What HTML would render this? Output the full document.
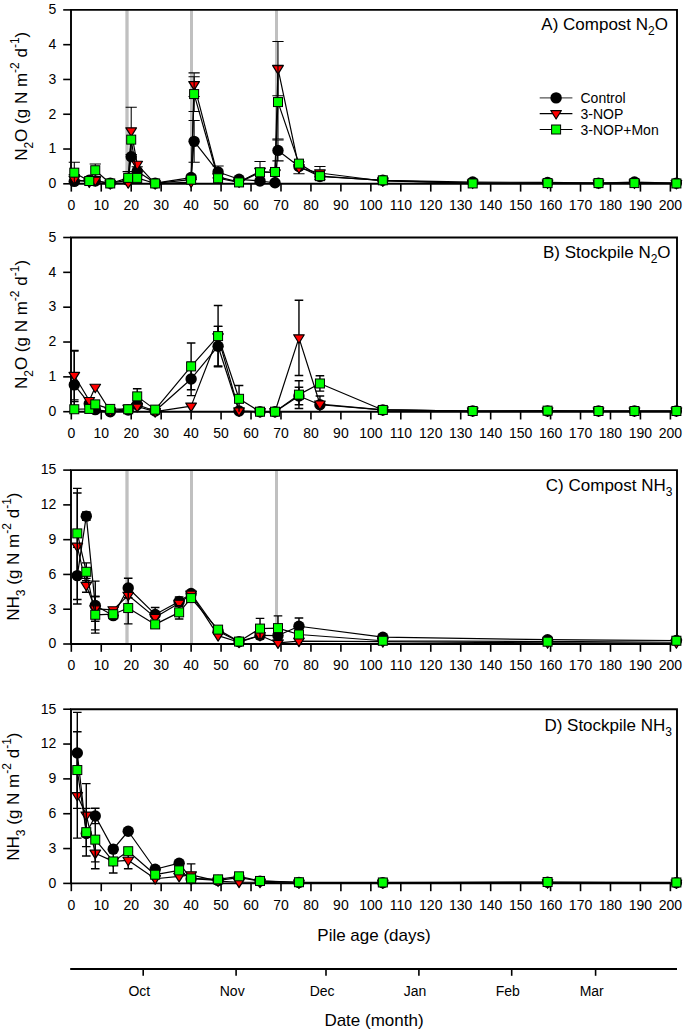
<!DOCTYPE html>
<html><head><meta charset="utf-8"><title>Figure</title>
<style>
html,body{margin:0;padding:0;background:#fff;width:685px;height:1032px;overflow:hidden}
svg{display:block}
text{font-family:"Liberation Sans",sans-serif;fill:#000}
</style></head><body>
<svg width="685" height="1032" viewBox="0 0 685 1032">
<rect width="685" height="1032" fill="#fff"/>
<line x1="127.0" y1="9.9" x2="127.0" y2="183.8" stroke="#c0c0c0" stroke-width="3.3"/>
<line x1="191.5" y1="9.9" x2="191.5" y2="183.8" stroke="#c0c0c0" stroke-width="3.0"/>
<line x1="276.5" y1="9.9" x2="276.5" y2="183.8" stroke="#c0c0c0" stroke-width="3.0"/>
<line x1="63.2" y1="183.80" x2="71.0" y2="183.80" stroke="#000" stroke-width="1.6"/>
<text x="56.3" y="188.10" text-anchor="end" font-size="14">0</text>
<line x1="63.2" y1="149.02" x2="71.0" y2="149.02" stroke="#000" stroke-width="1.6"/>
<text x="56.3" y="153.32" text-anchor="end" font-size="14">1</text>
<line x1="63.2" y1="114.24" x2="71.0" y2="114.24" stroke="#000" stroke-width="1.6"/>
<text x="56.3" y="118.54" text-anchor="end" font-size="14">2</text>
<line x1="63.2" y1="79.46" x2="71.0" y2="79.46" stroke="#000" stroke-width="1.6"/>
<text x="56.3" y="83.76" text-anchor="end" font-size="14">3</text>
<line x1="63.2" y1="44.68" x2="71.0" y2="44.68" stroke="#000" stroke-width="1.6"/>
<text x="56.3" y="48.98" text-anchor="end" font-size="14">4</text>
<line x1="63.2" y1="9.90" x2="71.0" y2="9.90" stroke="#000" stroke-width="1.6"/>
<text x="56.3" y="14.20" text-anchor="end" font-size="14">5</text>
<line x1="71.30" y1="183.8" x2="71.30" y2="191.60" stroke="#000" stroke-width="1.6"/>
<text x="71.30" y="210.10" text-anchor="middle" font-size="14">0</text>
<line x1="101.25" y1="183.8" x2="101.25" y2="191.60" stroke="#000" stroke-width="1.6"/>
<text x="101.25" y="210.10" text-anchor="middle" font-size="14">10</text>
<line x1="131.21" y1="183.8" x2="131.21" y2="191.60" stroke="#000" stroke-width="1.6"/>
<text x="131.21" y="210.10" text-anchor="middle" font-size="14">20</text>
<line x1="161.16" y1="183.8" x2="161.16" y2="191.60" stroke="#000" stroke-width="1.6"/>
<text x="161.16" y="210.10" text-anchor="middle" font-size="14">30</text>
<line x1="191.12" y1="183.8" x2="191.12" y2="191.60" stroke="#000" stroke-width="1.6"/>
<text x="191.12" y="210.10" text-anchor="middle" font-size="14">40</text>
<line x1="221.07" y1="183.8" x2="221.07" y2="191.60" stroke="#000" stroke-width="1.6"/>
<text x="221.07" y="210.10" text-anchor="middle" font-size="14">50</text>
<line x1="251.03" y1="183.8" x2="251.03" y2="191.60" stroke="#000" stroke-width="1.6"/>
<text x="251.03" y="210.10" text-anchor="middle" font-size="14">60</text>
<line x1="280.99" y1="183.8" x2="280.99" y2="191.60" stroke="#000" stroke-width="1.6"/>
<text x="280.99" y="210.10" text-anchor="middle" font-size="14">70</text>
<line x1="310.94" y1="183.8" x2="310.94" y2="191.60" stroke="#000" stroke-width="1.6"/>
<text x="310.94" y="210.10" text-anchor="middle" font-size="14">80</text>
<line x1="340.89" y1="183.8" x2="340.89" y2="191.60" stroke="#000" stroke-width="1.6"/>
<text x="340.89" y="210.10" text-anchor="middle" font-size="14">90</text>
<line x1="370.85" y1="183.8" x2="370.85" y2="191.60" stroke="#000" stroke-width="1.6"/>
<text x="370.85" y="210.10" text-anchor="middle" font-size="14">100</text>
<line x1="400.81" y1="183.8" x2="400.81" y2="191.60" stroke="#000" stroke-width="1.6"/>
<text x="400.81" y="210.10" text-anchor="middle" font-size="14">110</text>
<line x1="430.76" y1="183.8" x2="430.76" y2="191.60" stroke="#000" stroke-width="1.6"/>
<text x="430.76" y="210.10" text-anchor="middle" font-size="14">120</text>
<line x1="460.71" y1="183.8" x2="460.71" y2="191.60" stroke="#000" stroke-width="1.6"/>
<text x="460.71" y="210.10" text-anchor="middle" font-size="14">130</text>
<line x1="490.67" y1="183.8" x2="490.67" y2="191.60" stroke="#000" stroke-width="1.6"/>
<text x="490.67" y="210.10" text-anchor="middle" font-size="14">140</text>
<line x1="520.62" y1="183.8" x2="520.62" y2="191.60" stroke="#000" stroke-width="1.6"/>
<text x="520.62" y="210.10" text-anchor="middle" font-size="14">150</text>
<line x1="550.58" y1="183.8" x2="550.58" y2="191.60" stroke="#000" stroke-width="1.6"/>
<text x="550.58" y="210.10" text-anchor="middle" font-size="14">160</text>
<line x1="580.53" y1="183.8" x2="580.53" y2="191.60" stroke="#000" stroke-width="1.6"/>
<text x="580.53" y="210.10" text-anchor="middle" font-size="14">170</text>
<line x1="610.49" y1="183.8" x2="610.49" y2="191.60" stroke="#000" stroke-width="1.6"/>
<text x="610.49" y="210.10" text-anchor="middle" font-size="14">180</text>
<line x1="640.44" y1="183.8" x2="640.44" y2="191.60" stroke="#000" stroke-width="1.6"/>
<text x="640.44" y="210.10" text-anchor="middle" font-size="14">190</text>
<line x1="670.40" y1="183.8" x2="670.40" y2="191.60" stroke="#000" stroke-width="1.6"/>
<text x="670.40" y="210.10" text-anchor="middle" font-size="14">200</text>
<line x1="63.2" y1="411.70" x2="71.0" y2="411.70" stroke="#000" stroke-width="1.6"/>
<text x="56.3" y="416.00" text-anchor="end" font-size="14">0</text>
<line x1="63.2" y1="376.86" x2="71.0" y2="376.86" stroke="#000" stroke-width="1.6"/>
<text x="56.3" y="381.16" text-anchor="end" font-size="14">1</text>
<line x1="63.2" y1="342.02" x2="71.0" y2="342.02" stroke="#000" stroke-width="1.6"/>
<text x="56.3" y="346.32" text-anchor="end" font-size="14">2</text>
<line x1="63.2" y1="307.18" x2="71.0" y2="307.18" stroke="#000" stroke-width="1.6"/>
<text x="56.3" y="311.48" text-anchor="end" font-size="14">3</text>
<line x1="63.2" y1="272.34" x2="71.0" y2="272.34" stroke="#000" stroke-width="1.6"/>
<text x="56.3" y="276.64" text-anchor="end" font-size="14">4</text>
<line x1="63.2" y1="237.50" x2="71.0" y2="237.50" stroke="#000" stroke-width="1.6"/>
<text x="56.3" y="241.80" text-anchor="end" font-size="14">5</text>
<line x1="71.30" y1="411.7" x2="71.30" y2="419.50" stroke="#000" stroke-width="1.6"/>
<text x="71.30" y="438.00" text-anchor="middle" font-size="14">0</text>
<line x1="101.25" y1="411.7" x2="101.25" y2="419.50" stroke="#000" stroke-width="1.6"/>
<text x="101.25" y="438.00" text-anchor="middle" font-size="14">10</text>
<line x1="131.21" y1="411.7" x2="131.21" y2="419.50" stroke="#000" stroke-width="1.6"/>
<text x="131.21" y="438.00" text-anchor="middle" font-size="14">20</text>
<line x1="161.16" y1="411.7" x2="161.16" y2="419.50" stroke="#000" stroke-width="1.6"/>
<text x="161.16" y="438.00" text-anchor="middle" font-size="14">30</text>
<line x1="191.12" y1="411.7" x2="191.12" y2="419.50" stroke="#000" stroke-width="1.6"/>
<text x="191.12" y="438.00" text-anchor="middle" font-size="14">40</text>
<line x1="221.07" y1="411.7" x2="221.07" y2="419.50" stroke="#000" stroke-width="1.6"/>
<text x="221.07" y="438.00" text-anchor="middle" font-size="14">50</text>
<line x1="251.03" y1="411.7" x2="251.03" y2="419.50" stroke="#000" stroke-width="1.6"/>
<text x="251.03" y="438.00" text-anchor="middle" font-size="14">60</text>
<line x1="280.99" y1="411.7" x2="280.99" y2="419.50" stroke="#000" stroke-width="1.6"/>
<text x="280.99" y="438.00" text-anchor="middle" font-size="14">70</text>
<line x1="310.94" y1="411.7" x2="310.94" y2="419.50" stroke="#000" stroke-width="1.6"/>
<text x="310.94" y="438.00" text-anchor="middle" font-size="14">80</text>
<line x1="340.89" y1="411.7" x2="340.89" y2="419.50" stroke="#000" stroke-width="1.6"/>
<text x="340.89" y="438.00" text-anchor="middle" font-size="14">90</text>
<line x1="370.85" y1="411.7" x2="370.85" y2="419.50" stroke="#000" stroke-width="1.6"/>
<text x="370.85" y="438.00" text-anchor="middle" font-size="14">100</text>
<line x1="400.81" y1="411.7" x2="400.81" y2="419.50" stroke="#000" stroke-width="1.6"/>
<text x="400.81" y="438.00" text-anchor="middle" font-size="14">110</text>
<line x1="430.76" y1="411.7" x2="430.76" y2="419.50" stroke="#000" stroke-width="1.6"/>
<text x="430.76" y="438.00" text-anchor="middle" font-size="14">120</text>
<line x1="460.71" y1="411.7" x2="460.71" y2="419.50" stroke="#000" stroke-width="1.6"/>
<text x="460.71" y="438.00" text-anchor="middle" font-size="14">130</text>
<line x1="490.67" y1="411.7" x2="490.67" y2="419.50" stroke="#000" stroke-width="1.6"/>
<text x="490.67" y="438.00" text-anchor="middle" font-size="14">140</text>
<line x1="520.62" y1="411.7" x2="520.62" y2="419.50" stroke="#000" stroke-width="1.6"/>
<text x="520.62" y="438.00" text-anchor="middle" font-size="14">150</text>
<line x1="550.58" y1="411.7" x2="550.58" y2="419.50" stroke="#000" stroke-width="1.6"/>
<text x="550.58" y="438.00" text-anchor="middle" font-size="14">160</text>
<line x1="580.53" y1="411.7" x2="580.53" y2="419.50" stroke="#000" stroke-width="1.6"/>
<text x="580.53" y="438.00" text-anchor="middle" font-size="14">170</text>
<line x1="610.49" y1="411.7" x2="610.49" y2="419.50" stroke="#000" stroke-width="1.6"/>
<text x="610.49" y="438.00" text-anchor="middle" font-size="14">180</text>
<line x1="640.44" y1="411.7" x2="640.44" y2="419.50" stroke="#000" stroke-width="1.6"/>
<text x="640.44" y="438.00" text-anchor="middle" font-size="14">190</text>
<line x1="670.40" y1="411.7" x2="670.40" y2="419.50" stroke="#000" stroke-width="1.6"/>
<text x="670.40" y="438.00" text-anchor="middle" font-size="14">200</text>
<line x1="127.0" y1="470.1" x2="127.0" y2="644.0" stroke="#c0c0c0" stroke-width="3.3"/>
<line x1="191.5" y1="470.1" x2="191.5" y2="644.0" stroke="#c0c0c0" stroke-width="3.0"/>
<line x1="276.5" y1="470.1" x2="276.5" y2="644.0" stroke="#c0c0c0" stroke-width="3.0"/>
<line x1="63.2" y1="644.00" x2="71.0" y2="644.00" stroke="#000" stroke-width="1.6"/>
<text x="56.3" y="648.30" text-anchor="end" font-size="14">0</text>
<line x1="63.2" y1="609.22" x2="71.0" y2="609.22" stroke="#000" stroke-width="1.6"/>
<text x="56.3" y="613.52" text-anchor="end" font-size="14">3</text>
<line x1="63.2" y1="574.44" x2="71.0" y2="574.44" stroke="#000" stroke-width="1.6"/>
<text x="56.3" y="578.74" text-anchor="end" font-size="14">6</text>
<line x1="63.2" y1="539.66" x2="71.0" y2="539.66" stroke="#000" stroke-width="1.6"/>
<text x="56.3" y="543.96" text-anchor="end" font-size="14">9</text>
<line x1="63.2" y1="504.88" x2="71.0" y2="504.88" stroke="#000" stroke-width="1.6"/>
<text x="56.3" y="509.18" text-anchor="end" font-size="14">12</text>
<line x1="63.2" y1="470.10" x2="71.0" y2="470.10" stroke="#000" stroke-width="1.6"/>
<text x="56.3" y="474.40" text-anchor="end" font-size="14">15</text>
<line x1="71.30" y1="644.0" x2="71.30" y2="651.80" stroke="#000" stroke-width="1.6"/>
<text x="71.30" y="670.30" text-anchor="middle" font-size="14">0</text>
<line x1="101.25" y1="644.0" x2="101.25" y2="651.80" stroke="#000" stroke-width="1.6"/>
<text x="101.25" y="670.30" text-anchor="middle" font-size="14">10</text>
<line x1="131.21" y1="644.0" x2="131.21" y2="651.80" stroke="#000" stroke-width="1.6"/>
<text x="131.21" y="670.30" text-anchor="middle" font-size="14">20</text>
<line x1="161.16" y1="644.0" x2="161.16" y2="651.80" stroke="#000" stroke-width="1.6"/>
<text x="161.16" y="670.30" text-anchor="middle" font-size="14">30</text>
<line x1="191.12" y1="644.0" x2="191.12" y2="651.80" stroke="#000" stroke-width="1.6"/>
<text x="191.12" y="670.30" text-anchor="middle" font-size="14">40</text>
<line x1="221.07" y1="644.0" x2="221.07" y2="651.80" stroke="#000" stroke-width="1.6"/>
<text x="221.07" y="670.30" text-anchor="middle" font-size="14">50</text>
<line x1="251.03" y1="644.0" x2="251.03" y2="651.80" stroke="#000" stroke-width="1.6"/>
<text x="251.03" y="670.30" text-anchor="middle" font-size="14">60</text>
<line x1="280.99" y1="644.0" x2="280.99" y2="651.80" stroke="#000" stroke-width="1.6"/>
<text x="280.99" y="670.30" text-anchor="middle" font-size="14">70</text>
<line x1="310.94" y1="644.0" x2="310.94" y2="651.80" stroke="#000" stroke-width="1.6"/>
<text x="310.94" y="670.30" text-anchor="middle" font-size="14">80</text>
<line x1="340.89" y1="644.0" x2="340.89" y2="651.80" stroke="#000" stroke-width="1.6"/>
<text x="340.89" y="670.30" text-anchor="middle" font-size="14">90</text>
<line x1="370.85" y1="644.0" x2="370.85" y2="651.80" stroke="#000" stroke-width="1.6"/>
<text x="370.85" y="670.30" text-anchor="middle" font-size="14">100</text>
<line x1="400.81" y1="644.0" x2="400.81" y2="651.80" stroke="#000" stroke-width="1.6"/>
<text x="400.81" y="670.30" text-anchor="middle" font-size="14">110</text>
<line x1="430.76" y1="644.0" x2="430.76" y2="651.80" stroke="#000" stroke-width="1.6"/>
<text x="430.76" y="670.30" text-anchor="middle" font-size="14">120</text>
<line x1="460.71" y1="644.0" x2="460.71" y2="651.80" stroke="#000" stroke-width="1.6"/>
<text x="460.71" y="670.30" text-anchor="middle" font-size="14">130</text>
<line x1="490.67" y1="644.0" x2="490.67" y2="651.80" stroke="#000" stroke-width="1.6"/>
<text x="490.67" y="670.30" text-anchor="middle" font-size="14">140</text>
<line x1="520.62" y1="644.0" x2="520.62" y2="651.80" stroke="#000" stroke-width="1.6"/>
<text x="520.62" y="670.30" text-anchor="middle" font-size="14">150</text>
<line x1="550.58" y1="644.0" x2="550.58" y2="651.80" stroke="#000" stroke-width="1.6"/>
<text x="550.58" y="670.30" text-anchor="middle" font-size="14">160</text>
<line x1="580.53" y1="644.0" x2="580.53" y2="651.80" stroke="#000" stroke-width="1.6"/>
<text x="580.53" y="670.30" text-anchor="middle" font-size="14">170</text>
<line x1="610.49" y1="644.0" x2="610.49" y2="651.80" stroke="#000" stroke-width="1.6"/>
<text x="610.49" y="670.30" text-anchor="middle" font-size="14">180</text>
<line x1="640.44" y1="644.0" x2="640.44" y2="651.80" stroke="#000" stroke-width="1.6"/>
<text x="640.44" y="670.30" text-anchor="middle" font-size="14">190</text>
<line x1="670.40" y1="644.0" x2="670.40" y2="651.80" stroke="#000" stroke-width="1.6"/>
<text x="670.40" y="670.30" text-anchor="middle" font-size="14">200</text>
<line x1="63.2" y1="883.40" x2="71.0" y2="883.40" stroke="#000" stroke-width="1.6"/>
<text x="56.3" y="887.70" text-anchor="end" font-size="14">0</text>
<line x1="63.2" y1="848.56" x2="71.0" y2="848.56" stroke="#000" stroke-width="1.6"/>
<text x="56.3" y="852.86" text-anchor="end" font-size="14">3</text>
<line x1="63.2" y1="813.72" x2="71.0" y2="813.72" stroke="#000" stroke-width="1.6"/>
<text x="56.3" y="818.02" text-anchor="end" font-size="14">6</text>
<line x1="63.2" y1="778.88" x2="71.0" y2="778.88" stroke="#000" stroke-width="1.6"/>
<text x="56.3" y="783.18" text-anchor="end" font-size="14">9</text>
<line x1="63.2" y1="744.04" x2="71.0" y2="744.04" stroke="#000" stroke-width="1.6"/>
<text x="56.3" y="748.34" text-anchor="end" font-size="14">12</text>
<line x1="63.2" y1="709.20" x2="71.0" y2="709.20" stroke="#000" stroke-width="1.6"/>
<text x="56.3" y="713.50" text-anchor="end" font-size="14">15</text>
<line x1="71.30" y1="883.4" x2="71.30" y2="891.20" stroke="#000" stroke-width="1.6"/>
<text x="71.30" y="909.70" text-anchor="middle" font-size="14">0</text>
<line x1="101.25" y1="883.4" x2="101.25" y2="891.20" stroke="#000" stroke-width="1.6"/>
<text x="101.25" y="909.70" text-anchor="middle" font-size="14">10</text>
<line x1="131.21" y1="883.4" x2="131.21" y2="891.20" stroke="#000" stroke-width="1.6"/>
<text x="131.21" y="909.70" text-anchor="middle" font-size="14">20</text>
<line x1="161.16" y1="883.4" x2="161.16" y2="891.20" stroke="#000" stroke-width="1.6"/>
<text x="161.16" y="909.70" text-anchor="middle" font-size="14">30</text>
<line x1="191.12" y1="883.4" x2="191.12" y2="891.20" stroke="#000" stroke-width="1.6"/>
<text x="191.12" y="909.70" text-anchor="middle" font-size="14">40</text>
<line x1="221.07" y1="883.4" x2="221.07" y2="891.20" stroke="#000" stroke-width="1.6"/>
<text x="221.07" y="909.70" text-anchor="middle" font-size="14">50</text>
<line x1="251.03" y1="883.4" x2="251.03" y2="891.20" stroke="#000" stroke-width="1.6"/>
<text x="251.03" y="909.70" text-anchor="middle" font-size="14">60</text>
<line x1="280.99" y1="883.4" x2="280.99" y2="891.20" stroke="#000" stroke-width="1.6"/>
<text x="280.99" y="909.70" text-anchor="middle" font-size="14">70</text>
<line x1="310.94" y1="883.4" x2="310.94" y2="891.20" stroke="#000" stroke-width="1.6"/>
<text x="310.94" y="909.70" text-anchor="middle" font-size="14">80</text>
<line x1="340.89" y1="883.4" x2="340.89" y2="891.20" stroke="#000" stroke-width="1.6"/>
<text x="340.89" y="909.70" text-anchor="middle" font-size="14">90</text>
<line x1="370.85" y1="883.4" x2="370.85" y2="891.20" stroke="#000" stroke-width="1.6"/>
<text x="370.85" y="909.70" text-anchor="middle" font-size="14">100</text>
<line x1="400.81" y1="883.4" x2="400.81" y2="891.20" stroke="#000" stroke-width="1.6"/>
<text x="400.81" y="909.70" text-anchor="middle" font-size="14">110</text>
<line x1="430.76" y1="883.4" x2="430.76" y2="891.20" stroke="#000" stroke-width="1.6"/>
<text x="430.76" y="909.70" text-anchor="middle" font-size="14">120</text>
<line x1="460.71" y1="883.4" x2="460.71" y2="891.20" stroke="#000" stroke-width="1.6"/>
<text x="460.71" y="909.70" text-anchor="middle" font-size="14">130</text>
<line x1="490.67" y1="883.4" x2="490.67" y2="891.20" stroke="#000" stroke-width="1.6"/>
<text x="490.67" y="909.70" text-anchor="middle" font-size="14">140</text>
<line x1="520.62" y1="883.4" x2="520.62" y2="891.20" stroke="#000" stroke-width="1.6"/>
<text x="520.62" y="909.70" text-anchor="middle" font-size="14">150</text>
<line x1="550.58" y1="883.4" x2="550.58" y2="891.20" stroke="#000" stroke-width="1.6"/>
<text x="550.58" y="909.70" text-anchor="middle" font-size="14">160</text>
<line x1="580.53" y1="883.4" x2="580.53" y2="891.20" stroke="#000" stroke-width="1.6"/>
<text x="580.53" y="909.70" text-anchor="middle" font-size="14">170</text>
<line x1="610.49" y1="883.4" x2="610.49" y2="891.20" stroke="#000" stroke-width="1.6"/>
<text x="610.49" y="909.70" text-anchor="middle" font-size="14">180</text>
<line x1="640.44" y1="883.4" x2="640.44" y2="891.20" stroke="#000" stroke-width="1.6"/>
<text x="640.44" y="909.70" text-anchor="middle" font-size="14">190</text>
<line x1="670.40" y1="883.4" x2="670.40" y2="891.20" stroke="#000" stroke-width="1.6"/>
<text x="670.40" y="909.70" text-anchor="middle" font-size="14">200</text>
<path d="M71.0,183.8 L71.0,9.9 L677.0,9.9 L677.0,183.8 Z" fill="none" stroke="#000" stroke-width="1.9" stroke-linejoin="miter"/>
<path d="M71.0,411.7 L71.0,237.5 L677.0,237.5 L677.0,411.7 Z" fill="none" stroke="#000" stroke-width="1.9" stroke-linejoin="miter"/>
<path d="M71.0,644.0 L71.0,470.1 L677.0,470.1 L677.0,644.0 Z" fill="none" stroke="#000" stroke-width="1.9" stroke-linejoin="miter"/>
<path d="M71.0,883.4 L71.0,709.2 L677.0,709.2 L677.0,883.4 Z" fill="none" stroke="#000" stroke-width="1.9" stroke-linejoin="miter"/>
<path d="M74.30,181.37 L89.27,180.32 L95.26,181.02 L110.24,183.10 L128.21,180.32 L131.21,156.67 L137.20,171.28 L155.17,183.10 L191.12,177.54 L194.12,141.37 L218.08,171.97 L239.05,179.28 L260.02,181.02 L274.99,182.76 L277.99,150.41 L298.96,166.41 L319.93,176.50 L382.83,180.32 L472.70,182.06 L547.58,182.41 L598.51,183.10 L634.45,182.06 L676.39,183.10" fill="none" stroke="#000" stroke-width="1.2" stroke-linejoin="round"/>
<path d="M74.30,174.41 L74.30,181.37 M68.70,174.41 L79.90,174.41 M74.30,181.37 L74.30,183.80" fill="none" stroke="#000" stroke-width="1.05"/>
<path d="M128.21,171.63 L128.21,180.32 M122.61,171.63 L133.81,171.63 M128.21,180.32 L128.21,183.80" fill="none" stroke="#000" stroke-width="1.05"/>
<path d="M137.20,166.76 L137.20,171.28 M131.60,166.76 L142.80,166.76 M137.20,171.28 L137.20,175.80 M131.60,175.80 L142.80,175.80" fill="none" stroke="#000" stroke-width="1.05"/>
<path d="M194.12,120.50 L194.12,141.37 M188.52,120.50 L199.72,120.50 M194.12,141.37 L194.12,162.24 M188.52,162.24 L199.72,162.24" fill="none" stroke="#000" stroke-width="1.05"/>
<path d="M218.08,166.06 L218.08,171.97 M212.48,166.06 L223.68,166.06 M218.08,171.97 L218.08,177.89 M212.48,177.89 L223.68,177.89" fill="none" stroke="#000" stroke-width="1.05"/>
<path d="M277.99,139.98 L277.99,150.41 M272.39,139.98 L283.59,139.98 M277.99,150.41 L277.99,160.85 M272.39,160.85 L283.59,160.85" fill="none" stroke="#000" stroke-width="1.05"/>
<circle cx="74.30" cy="181.37" r="5.7" fill="#000"/>
<circle cx="89.27" cy="180.32" r="5.7" fill="#000"/>
<circle cx="95.26" cy="181.02" r="5.7" fill="#000"/>
<circle cx="110.24" cy="183.10" r="5.7" fill="#000"/>
<circle cx="128.21" cy="180.32" r="5.7" fill="#000"/>
<circle cx="131.21" cy="156.67" r="5.7" fill="#000"/>
<circle cx="137.20" cy="171.28" r="5.7" fill="#000"/>
<circle cx="155.17" cy="183.10" r="5.7" fill="#000"/>
<circle cx="191.12" cy="177.54" r="5.7" fill="#000"/>
<circle cx="194.12" cy="141.37" r="5.7" fill="#000"/>
<circle cx="218.08" cy="171.97" r="5.7" fill="#000"/>
<circle cx="239.05" cy="179.28" r="5.7" fill="#000"/>
<circle cx="260.02" cy="181.02" r="5.7" fill="#000"/>
<circle cx="274.99" cy="182.76" r="5.7" fill="#000"/>
<circle cx="277.99" cy="150.41" r="5.7" fill="#000"/>
<circle cx="298.96" cy="166.41" r="5.7" fill="#000"/>
<circle cx="319.93" cy="176.50" r="5.7" fill="#000"/>
<circle cx="382.83" cy="180.32" r="5.7" fill="#000"/>
<circle cx="472.70" cy="182.06" r="5.7" fill="#000"/>
<circle cx="547.58" cy="182.41" r="5.7" fill="#000"/>
<circle cx="598.51" cy="183.10" r="5.7" fill="#000"/>
<circle cx="634.45" cy="182.06" r="5.7" fill="#000"/>
<circle cx="676.39" cy="183.10" r="5.7" fill="#000"/>
<path d="M74.30,179.28 L89.27,182.06 L95.26,180.32 L110.24,183.80 L128.21,182.76 L131.21,130.93 L137.20,164.32 L155.17,183.80 L191.12,182.06 L194.12,84.68 L218.08,176.84 L239.05,182.06 L260.02,171.28 L274.99,173.02 L277.99,68.68 L298.96,167.80 L319.93,173.02 L382.83,181.02 L472.70,183.10 L547.58,183.10 L598.51,183.10 L634.45,183.10 L676.39,183.45" fill="none" stroke="#000" stroke-width="1.2" stroke-linejoin="round"/>
<path d="M131.21,107.28 L131.21,130.93 M125.61,107.28 L136.81,107.28 M131.21,130.93 L131.21,154.58 M125.61,154.58 L136.81,154.58" fill="none" stroke="#000" stroke-width="1.05"/>
<path d="M194.12,72.85 L194.12,84.68 M188.52,72.85 L199.72,72.85 M194.12,84.68 L194.12,96.50 M188.52,96.50 L199.72,96.50" fill="none" stroke="#000" stroke-width="1.05"/>
<path d="M277.99,41.55 L277.99,68.68 M272.39,41.55 L283.59,41.55 M277.99,68.68 L277.99,95.81 M272.39,95.81 L283.59,95.81" fill="none" stroke="#000" stroke-width="1.05"/>
<path d="M298.96,161.89 L298.96,167.80 M293.36,161.89 L304.56,161.89 M298.96,167.80 L298.96,173.71 M293.36,173.71 L304.56,173.71" fill="none" stroke="#000" stroke-width="1.05"/>
<path d="M319.93,166.41 L319.93,173.02 M314.33,166.41 L325.53,166.41 M319.93,173.02 L319.93,179.63 M314.33,179.63 L325.53,179.63" fill="none" stroke="#000" stroke-width="1.05"/>
<path d="M69.00,176.22 L79.60,176.22 L74.30,184.72 Z" fill="#ff0000" stroke="#000" stroke-width="1.2" stroke-linejoin="round"/>
<path d="M83.97,179.00 L94.57,179.00 L89.27,187.50 Z" fill="#ff0000" stroke="#000" stroke-width="1.2" stroke-linejoin="round"/>
<path d="M89.96,177.26 L100.56,177.26 L95.26,185.76 Z" fill="#ff0000" stroke="#000" stroke-width="1.2" stroke-linejoin="round"/>
<path d="M104.94,180.74 L115.54,180.74 L110.24,189.24 Z" fill="#ff0000" stroke="#000" stroke-width="1.2" stroke-linejoin="round"/>
<path d="M122.91,179.70 L133.51,179.70 L128.21,188.20 Z" fill="#ff0000" stroke="#000" stroke-width="1.2" stroke-linejoin="round"/>
<path d="M125.91,127.87 L136.51,127.87 L131.21,136.37 Z" fill="#ff0000" stroke="#000" stroke-width="1.2" stroke-linejoin="round"/>
<path d="M131.90,161.26 L142.50,161.26 L137.20,169.76 Z" fill="#ff0000" stroke="#000" stroke-width="1.2" stroke-linejoin="round"/>
<path d="M149.87,180.74 L160.47,180.74 L155.17,189.24 Z" fill="#ff0000" stroke="#000" stroke-width="1.2" stroke-linejoin="round"/>
<path d="M185.82,179.00 L196.42,179.00 L191.12,187.50 Z" fill="#ff0000" stroke="#000" stroke-width="1.2" stroke-linejoin="round"/>
<path d="M188.82,81.62 L199.42,81.62 L194.12,90.12 Z" fill="#ff0000" stroke="#000" stroke-width="1.2" stroke-linejoin="round"/>
<path d="M212.78,173.78 L223.38,173.78 L218.08,182.28 Z" fill="#ff0000" stroke="#000" stroke-width="1.2" stroke-linejoin="round"/>
<path d="M233.75,179.00 L244.35,179.00 L239.05,187.50 Z" fill="#ff0000" stroke="#000" stroke-width="1.2" stroke-linejoin="round"/>
<path d="M254.72,168.22 L265.32,168.22 L260.02,176.72 Z" fill="#ff0000" stroke="#000" stroke-width="1.2" stroke-linejoin="round"/>
<path d="M269.69,169.96 L280.29,169.96 L274.99,178.46 Z" fill="#ff0000" stroke="#000" stroke-width="1.2" stroke-linejoin="round"/>
<path d="M272.69,65.62 L283.29,65.62 L277.99,74.12 Z" fill="#ff0000" stroke="#000" stroke-width="1.2" stroke-linejoin="round"/>
<path d="M293.66,164.74 L304.26,164.74 L298.96,173.24 Z" fill="#ff0000" stroke="#000" stroke-width="1.2" stroke-linejoin="round"/>
<path d="M314.63,169.96 L325.23,169.96 L319.93,178.46 Z" fill="#ff0000" stroke="#000" stroke-width="1.2" stroke-linejoin="round"/>
<path d="M377.53,177.96 L388.13,177.96 L382.83,186.46 Z" fill="#ff0000" stroke="#000" stroke-width="1.2" stroke-linejoin="round"/>
<path d="M467.40,180.04 L478.00,180.04 L472.70,188.54 Z" fill="#ff0000" stroke="#000" stroke-width="1.2" stroke-linejoin="round"/>
<path d="M542.28,180.04 L552.88,180.04 L547.58,188.54 Z" fill="#ff0000" stroke="#000" stroke-width="1.2" stroke-linejoin="round"/>
<path d="M593.21,180.04 L603.81,180.04 L598.51,188.54 Z" fill="#ff0000" stroke="#000" stroke-width="1.2" stroke-linejoin="round"/>
<path d="M629.15,180.04 L639.75,180.04 L634.45,188.54 Z" fill="#ff0000" stroke="#000" stroke-width="1.2" stroke-linejoin="round"/>
<path d="M671.09,180.39 L681.69,180.39 L676.39,188.89 Z" fill="#ff0000" stroke="#000" stroke-width="1.2" stroke-linejoin="round"/>
<path d="M74.30,172.67 L89.27,181.02 L95.26,170.24 L110.24,183.45 L128.21,177.89 L131.21,139.63 L137.20,177.89 L155.17,183.45 L191.12,179.63 L194.12,94.07 L218.08,178.24 L239.05,182.41 L260.02,172.32 L274.99,171.97 L277.99,102.07 L298.96,163.63 L319.93,176.15 L382.83,180.32 L472.70,183.45 L547.58,183.10 L598.51,183.10 L634.45,183.10 L676.39,183.45" fill="none" stroke="#000" stroke-width="1.2" stroke-linejoin="round"/>
<path d="M74.30,162.24 L74.30,172.67 M68.70,162.24 L79.90,162.24 M74.30,172.67 L74.30,183.10 M68.70,183.10 L79.90,183.10" fill="none" stroke="#000" stroke-width="1.05"/>
<path d="M95.26,163.98 L95.26,170.24 M89.66,163.98 L100.86,163.98 M95.26,170.24 L95.26,176.50 M89.66,176.50 L100.86,176.50" fill="none" stroke="#000" stroke-width="1.05"/>
<path d="M194.12,76.68 L194.12,94.07 M188.52,76.68 L199.72,76.68 M194.12,94.07 L194.12,111.46 M188.52,111.46 L199.72,111.46" fill="none" stroke="#000" stroke-width="1.05"/>
<path d="M260.02,161.54 L260.02,172.32 M254.42,161.54 L265.62,161.54 M260.02,172.32 L260.02,183.10 M254.42,183.10 L265.62,183.10" fill="none" stroke="#000" stroke-width="1.05"/>
<path d="M277.99,65.20 L277.99,102.07 M272.39,65.20 L283.59,65.20 M277.99,102.07 L277.99,138.93 M272.39,138.93 L283.59,138.93" fill="none" stroke="#000" stroke-width="1.05"/>
<rect x="69.80" y="168.17" width="9.0" height="9.0" fill="#00ff00" stroke="#000" stroke-width="1"/>
<rect x="84.77" y="176.52" width="9.0" height="9.0" fill="#00ff00" stroke="#000" stroke-width="1"/>
<rect x="90.76" y="165.74" width="9.0" height="9.0" fill="#00ff00" stroke="#000" stroke-width="1"/>
<rect x="105.74" y="178.95" width="9.0" height="9.0" fill="#00ff00" stroke="#000" stroke-width="1"/>
<rect x="123.71" y="173.39" width="9.0" height="9.0" fill="#00ff00" stroke="#000" stroke-width="1"/>
<rect x="126.71" y="135.13" width="9.0" height="9.0" fill="#00ff00" stroke="#000" stroke-width="1"/>
<rect x="132.70" y="173.39" width="9.0" height="9.0" fill="#00ff00" stroke="#000" stroke-width="1"/>
<rect x="150.67" y="178.95" width="9.0" height="9.0" fill="#00ff00" stroke="#000" stroke-width="1"/>
<rect x="186.62" y="175.13" width="9.0" height="9.0" fill="#00ff00" stroke="#000" stroke-width="1"/>
<rect x="189.62" y="89.57" width="9.0" height="9.0" fill="#00ff00" stroke="#000" stroke-width="1"/>
<rect x="213.58" y="173.74" width="9.0" height="9.0" fill="#00ff00" stroke="#000" stroke-width="1"/>
<rect x="234.55" y="177.91" width="9.0" height="9.0" fill="#00ff00" stroke="#000" stroke-width="1"/>
<rect x="255.52" y="167.82" width="9.0" height="9.0" fill="#00ff00" stroke="#000" stroke-width="1"/>
<rect x="270.49" y="167.47" width="9.0" height="9.0" fill="#00ff00" stroke="#000" stroke-width="1"/>
<rect x="273.49" y="97.57" width="9.0" height="9.0" fill="#00ff00" stroke="#000" stroke-width="1"/>
<rect x="294.46" y="159.13" width="9.0" height="9.0" fill="#00ff00" stroke="#000" stroke-width="1"/>
<rect x="315.43" y="171.65" width="9.0" height="9.0" fill="#00ff00" stroke="#000" stroke-width="1"/>
<rect x="378.33" y="175.82" width="9.0" height="9.0" fill="#00ff00" stroke="#000" stroke-width="1"/>
<rect x="468.20" y="178.95" width="9.0" height="9.0" fill="#00ff00" stroke="#000" stroke-width="1"/>
<rect x="543.08" y="178.60" width="9.0" height="9.0" fill="#00ff00" stroke="#000" stroke-width="1"/>
<rect x="594.01" y="178.60" width="9.0" height="9.0" fill="#00ff00" stroke="#000" stroke-width="1"/>
<rect x="629.95" y="178.60" width="9.0" height="9.0" fill="#00ff00" stroke="#000" stroke-width="1"/>
<rect x="671.89" y="178.95" width="9.0" height="9.0" fill="#00ff00" stroke="#000" stroke-width="1"/>
<path d="M74.30,384.87 L89.27,403.69 L95.26,409.61 L110.24,411.70 L128.21,409.96 L137.20,404.73 L155.17,411.00 L191.12,378.95 L218.08,346.20 L239.05,411.00 L260.02,411.70 L274.99,411.70 L298.96,396.02 L319.93,404.73 L382.83,409.96 L472.70,411.00 L547.58,411.00 L598.51,411.00 L634.45,411.00 L676.39,411.00" fill="none" stroke="#000" stroke-width="1.2" stroke-linejoin="round"/>
<path d="M74.30,350.38 L74.30,384.87 M70.00,350.38 L78.60,350.38 M74.30,384.87 L74.30,411.70" fill="none" stroke="#000" stroke-width="1.4"/>
<path d="M191.12,362.23 L191.12,378.95 M186.82,362.23 L195.42,362.23 M191.12,378.95 L191.12,395.67 M186.82,395.67 L195.42,395.67" fill="none" stroke="#000" stroke-width="1.4"/>
<path d="M218.08,326.34 L218.08,346.20 M213.78,326.34 L222.38,326.34 M218.08,346.20 L218.08,366.06 M213.78,366.06 L222.38,366.06" fill="none" stroke="#000" stroke-width="1.4"/>
<path d="M298.96,387.31 L298.96,396.02 M294.66,387.31 L303.26,387.31 M298.96,396.02 L298.96,404.73 M294.66,404.73 L303.26,404.73" fill="none" stroke="#000" stroke-width="1.4"/>
<path d="M319.93,396.02 L319.93,404.73 M315.63,396.02 L324.23,396.02 M319.93,404.73 L319.93,411.70" fill="none" stroke="#000" stroke-width="1.4"/>
<circle cx="74.30" cy="384.87" r="5.7" fill="#000"/>
<circle cx="89.27" cy="403.69" r="5.7" fill="#000"/>
<circle cx="95.26" cy="409.61" r="5.7" fill="#000"/>
<circle cx="110.24" cy="411.70" r="5.7" fill="#000"/>
<circle cx="128.21" cy="409.96" r="5.7" fill="#000"/>
<circle cx="137.20" cy="404.73" r="5.7" fill="#000"/>
<circle cx="155.17" cy="411.00" r="5.7" fill="#000"/>
<circle cx="191.12" cy="378.95" r="5.7" fill="#000"/>
<circle cx="218.08" cy="346.20" r="5.7" fill="#000"/>
<circle cx="239.05" cy="411.00" r="5.7" fill="#000"/>
<circle cx="260.02" cy="411.70" r="5.7" fill="#000"/>
<circle cx="274.99" cy="411.70" r="5.7" fill="#000"/>
<circle cx="298.96" cy="396.02" r="5.7" fill="#000"/>
<circle cx="319.93" cy="404.73" r="5.7" fill="#000"/>
<circle cx="382.83" cy="409.96" r="5.7" fill="#000"/>
<circle cx="472.70" cy="411.00" r="5.7" fill="#000"/>
<circle cx="547.58" cy="411.00" r="5.7" fill="#000"/>
<circle cx="598.51" cy="411.00" r="5.7" fill="#000"/>
<circle cx="634.45" cy="411.00" r="5.7" fill="#000"/>
<circle cx="676.39" cy="411.00" r="5.7" fill="#000"/>
<path d="M74.30,375.47 L89.27,400.55 L95.26,387.31 L110.24,411.00 L128.21,408.22 L137.20,406.47 L155.17,411.70 L191.12,406.13 L218.08,336.79 L239.05,411.00 L260.02,411.70 L274.99,411.70 L298.96,337.84 L319.93,404.04 L382.83,409.96 L472.70,411.00 L547.58,411.00 L598.51,411.00 L634.45,411.00 L676.39,411.00" fill="none" stroke="#000" stroke-width="1.2" stroke-linejoin="round"/>
<path d="M74.30,351.08 L74.30,375.47 M70.00,351.08 L78.60,351.08 M74.30,375.47 L74.30,399.85 M70.00,399.85 L78.60,399.85" fill="none" stroke="#000" stroke-width="1.4"/>
<path d="M218.08,326.34 L218.08,336.79 M213.78,326.34 L222.38,326.34 M218.08,336.79 L218.08,347.25 M213.78,347.25 L222.38,347.25" fill="none" stroke="#000" stroke-width="1.4"/>
<path d="M298.96,300.21 L298.96,337.84 M294.66,300.21 L303.26,300.21 M298.96,337.84 L298.96,375.47 M294.66,375.47 L303.26,375.47" fill="none" stroke="#000" stroke-width="1.4"/>
<path d="M69.00,372.41 L79.60,372.41 L74.30,380.91 Z" fill="#ff0000" stroke="#000" stroke-width="1.2" stroke-linejoin="round"/>
<path d="M83.97,397.49 L94.57,397.49 L89.27,405.99 Z" fill="#ff0000" stroke="#000" stroke-width="1.2" stroke-linejoin="round"/>
<path d="M89.96,384.25 L100.56,384.25 L95.26,392.75 Z" fill="#ff0000" stroke="#000" stroke-width="1.2" stroke-linejoin="round"/>
<path d="M104.94,407.94 L115.54,407.94 L110.24,416.44 Z" fill="#ff0000" stroke="#000" stroke-width="1.2" stroke-linejoin="round"/>
<path d="M122.91,405.16 L133.51,405.16 L128.21,413.66 Z" fill="#ff0000" stroke="#000" stroke-width="1.2" stroke-linejoin="round"/>
<path d="M131.90,403.41 L142.50,403.41 L137.20,411.91 Z" fill="#ff0000" stroke="#000" stroke-width="1.2" stroke-linejoin="round"/>
<path d="M149.87,408.64 L160.47,408.64 L155.17,417.14 Z" fill="#ff0000" stroke="#000" stroke-width="1.2" stroke-linejoin="round"/>
<path d="M185.82,403.07 L196.42,403.07 L191.12,411.57 Z" fill="#ff0000" stroke="#000" stroke-width="1.2" stroke-linejoin="round"/>
<path d="M212.78,333.73 L223.38,333.73 L218.08,342.23 Z" fill="#ff0000" stroke="#000" stroke-width="1.2" stroke-linejoin="round"/>
<path d="M233.75,407.94 L244.35,407.94 L239.05,416.44 Z" fill="#ff0000" stroke="#000" stroke-width="1.2" stroke-linejoin="round"/>
<path d="M254.72,408.64 L265.32,408.64 L260.02,417.14 Z" fill="#ff0000" stroke="#000" stroke-width="1.2" stroke-linejoin="round"/>
<path d="M269.69,408.64 L280.29,408.64 L274.99,417.14 Z" fill="#ff0000" stroke="#000" stroke-width="1.2" stroke-linejoin="round"/>
<path d="M293.66,334.78 L304.26,334.78 L298.96,343.28 Z" fill="#ff0000" stroke="#000" stroke-width="1.2" stroke-linejoin="round"/>
<path d="M314.63,400.98 L325.23,400.98 L319.93,409.48 Z" fill="#ff0000" stroke="#000" stroke-width="1.2" stroke-linejoin="round"/>
<path d="M377.53,406.90 L388.13,406.90 L382.83,415.40 Z" fill="#ff0000" stroke="#000" stroke-width="1.2" stroke-linejoin="round"/>
<path d="M467.40,407.94 L478.00,407.94 L472.70,416.44 Z" fill="#ff0000" stroke="#000" stroke-width="1.2" stroke-linejoin="round"/>
<path d="M542.28,407.94 L552.88,407.94 L547.58,416.44 Z" fill="#ff0000" stroke="#000" stroke-width="1.2" stroke-linejoin="round"/>
<path d="M593.21,407.94 L603.81,407.94 L598.51,416.44 Z" fill="#ff0000" stroke="#000" stroke-width="1.2" stroke-linejoin="round"/>
<path d="M629.15,407.94 L639.75,407.94 L634.45,416.44 Z" fill="#ff0000" stroke="#000" stroke-width="1.2" stroke-linejoin="round"/>
<path d="M671.09,407.94 L681.69,407.94 L676.39,416.44 Z" fill="#ff0000" stroke="#000" stroke-width="1.2" stroke-linejoin="round"/>
<path d="M74.30,409.26 L89.27,408.91 L95.26,404.38 L110.24,408.91 L128.21,409.26 L137.20,396.37 L155.17,409.61 L191.12,366.41 L218.08,336.10 L239.05,398.81 L260.02,411.70 L274.99,411.70 L298.96,394.63 L319.93,383.48 L382.83,409.96 L472.70,411.00 L547.58,410.65 L598.51,411.00 L634.45,411.00 L676.39,411.00" fill="none" stroke="#000" stroke-width="1.2" stroke-linejoin="round"/>
<path d="M74.30,401.60 L74.30,409.26 M70.00,401.60 L78.60,401.60 M74.30,409.26 L74.30,411.70" fill="none" stroke="#000" stroke-width="1.4"/>
<path d="M137.20,388.71 L137.20,396.37 M132.90,388.71 L141.50,388.71 M137.20,396.37 L137.20,404.04 M132.90,404.04 L141.50,404.04" fill="none" stroke="#000" stroke-width="1.4"/>
<path d="M191.12,343.07 L191.12,366.41 M186.82,343.07 L195.42,343.07 M191.12,366.41 L191.12,389.75 M186.82,389.75 L195.42,389.75" fill="none" stroke="#000" stroke-width="1.4"/>
<path d="M218.08,305.44 L218.08,336.10 M213.78,305.44 L222.38,305.44 M218.08,336.10 L218.08,366.76 M213.78,366.76 L222.38,366.76" fill="none" stroke="#000" stroke-width="1.4"/>
<path d="M239.05,385.57 L239.05,398.81 M234.75,385.57 L243.35,385.57 M239.05,398.81 L239.05,411.70" fill="none" stroke="#000" stroke-width="1.4"/>
<path d="M298.96,380.69 L298.96,394.63 M294.66,380.69 L303.26,380.69 M298.96,394.63 L298.96,408.56 M294.66,408.56 L303.26,408.56" fill="none" stroke="#000" stroke-width="1.4"/>
<path d="M319.93,375.81 L319.93,383.48 M315.63,375.81 L324.23,375.81 M319.93,383.48 L319.93,391.14 M315.63,391.14 L324.23,391.14" fill="none" stroke="#000" stroke-width="1.4"/>
<rect x="69.80" y="404.76" width="9.0" height="9.0" fill="#00ff00" stroke="#000" stroke-width="1"/>
<rect x="84.77" y="404.41" width="9.0" height="9.0" fill="#00ff00" stroke="#000" stroke-width="1"/>
<rect x="90.76" y="399.88" width="9.0" height="9.0" fill="#00ff00" stroke="#000" stroke-width="1"/>
<rect x="105.74" y="404.41" width="9.0" height="9.0" fill="#00ff00" stroke="#000" stroke-width="1"/>
<rect x="123.71" y="404.76" width="9.0" height="9.0" fill="#00ff00" stroke="#000" stroke-width="1"/>
<rect x="132.70" y="391.87" width="9.0" height="9.0" fill="#00ff00" stroke="#000" stroke-width="1"/>
<rect x="150.67" y="405.11" width="9.0" height="9.0" fill="#00ff00" stroke="#000" stroke-width="1"/>
<rect x="186.62" y="361.91" width="9.0" height="9.0" fill="#00ff00" stroke="#000" stroke-width="1"/>
<rect x="213.58" y="331.60" width="9.0" height="9.0" fill="#00ff00" stroke="#000" stroke-width="1"/>
<rect x="234.55" y="394.31" width="9.0" height="9.0" fill="#00ff00" stroke="#000" stroke-width="1"/>
<rect x="255.52" y="407.20" width="9.0" height="9.0" fill="#00ff00" stroke="#000" stroke-width="1"/>
<rect x="270.49" y="407.20" width="9.0" height="9.0" fill="#00ff00" stroke="#000" stroke-width="1"/>
<rect x="294.46" y="390.13" width="9.0" height="9.0" fill="#00ff00" stroke="#000" stroke-width="1"/>
<rect x="315.43" y="378.98" width="9.0" height="9.0" fill="#00ff00" stroke="#000" stroke-width="1"/>
<rect x="378.33" y="405.46" width="9.0" height="9.0" fill="#00ff00" stroke="#000" stroke-width="1"/>
<rect x="468.20" y="406.50" width="9.0" height="9.0" fill="#00ff00" stroke="#000" stroke-width="1"/>
<rect x="543.08" y="406.15" width="9.0" height="9.0" fill="#00ff00" stroke="#000" stroke-width="1"/>
<rect x="594.01" y="406.50" width="9.0" height="9.0" fill="#00ff00" stroke="#000" stroke-width="1"/>
<rect x="629.95" y="406.50" width="9.0" height="9.0" fill="#00ff00" stroke="#000" stroke-width="1"/>
<rect x="671.89" y="406.50" width="9.0" height="9.0" fill="#00ff00" stroke="#000" stroke-width="1"/>
<path d="M77.29,575.60 L86.28,516.13 L95.26,605.51 L113.24,615.60 L128.21,588.00 L155.17,614.44 L179.14,601.57 L191.12,593.57 L218.08,631.25 L239.05,641.68 L260.02,635.30 L277.99,635.54 L298.96,626.26 L382.83,637.16 L547.58,639.71 L676.39,640.52" fill="none" stroke="#000" stroke-width="1.2" stroke-linejoin="round"/>
<path d="M77.29,547.20 L77.29,575.60 M72.99,547.20 L81.59,547.20 M77.29,575.60 L77.29,604.00 M72.99,604.00 L81.59,604.00" fill="none" stroke="#000" stroke-width="1.4"/>
<path d="M86.28,512.07 L86.28,516.13 M81.98,512.07 L90.58,512.07 M86.28,516.13 L86.28,520.18 M81.98,520.18 L90.58,520.18" fill="none" stroke="#000" stroke-width="1.4"/>
<path d="M95.26,581.16 L95.26,605.51 M90.96,581.16 L99.56,581.16 M95.26,605.51 L95.26,629.86 M90.96,629.86 L99.56,629.86" fill="none" stroke="#000" stroke-width="1.4"/>
<path d="M128.21,578.27 L128.21,588.00 M123.91,578.27 L132.51,578.27 M128.21,588.00 L128.21,597.74 M123.91,597.74 L132.51,597.74" fill="none" stroke="#000" stroke-width="1.4"/>
<path d="M155.17,607.48 L155.17,614.44 M150.87,607.48 L159.47,607.48 M155.17,614.44 L155.17,621.39 M150.87,621.39 L159.47,621.39" fill="none" stroke="#000" stroke-width="1.4"/>
<path d="M179.14,596.93 L179.14,601.57 M174.84,596.93 L183.44,596.93 M179.14,601.57 L179.14,606.21 M174.84,606.21 L183.44,606.21" fill="none" stroke="#000" stroke-width="1.4"/>
<path d="M298.96,618.03 L298.96,626.26 M294.66,618.03 L303.26,618.03 M298.96,626.26 L298.96,634.49 M294.66,634.49 L303.26,634.49" fill="none" stroke="#000" stroke-width="1.4"/>
<circle cx="77.29" cy="575.60" r="5.7" fill="#000"/>
<circle cx="86.28" cy="516.13" r="5.7" fill="#000"/>
<circle cx="95.26" cy="605.51" r="5.7" fill="#000"/>
<circle cx="113.24" cy="615.60" r="5.7" fill="#000"/>
<circle cx="128.21" cy="588.00" r="5.7" fill="#000"/>
<circle cx="155.17" cy="614.44" r="5.7" fill="#000"/>
<circle cx="179.14" cy="601.57" r="5.7" fill="#000"/>
<circle cx="191.12" cy="593.57" r="5.7" fill="#000"/>
<circle cx="218.08" cy="631.25" r="5.7" fill="#000"/>
<circle cx="239.05" cy="641.68" r="5.7" fill="#000"/>
<circle cx="260.02" cy="635.30" r="5.7" fill="#000"/>
<circle cx="277.99" cy="635.54" r="5.7" fill="#000"/>
<circle cx="298.96" cy="626.26" r="5.7" fill="#000"/>
<circle cx="382.83" cy="637.16" r="5.7" fill="#000"/>
<circle cx="547.58" cy="639.71" r="5.7" fill="#000"/>
<circle cx="676.39" cy="640.52" r="5.7" fill="#000"/>
<path d="M77.29,546.27 L86.28,585.34 L95.26,608.87 L113.24,609.80 L128.21,595.31 L155.17,617.34 L179.14,603.31 L191.12,594.15 L218.08,635.65 L239.05,642.26 L260.02,635.54 L277.99,642.96 L298.96,641.22 L382.83,641.68 L547.58,642.84 L676.39,642.84" fill="none" stroke="#000" stroke-width="1.2" stroke-linejoin="round"/>
<path d="M77.29,493.05 L77.29,546.27 M72.99,493.05 L81.59,493.05 M77.29,546.27 L77.29,599.48 M72.99,599.48 L81.59,599.48" fill="none" stroke="#000" stroke-width="1.4"/>
<path d="M86.28,578.38 L86.28,585.34 M81.98,578.38 L90.58,578.38 M86.28,585.34 L86.28,592.29 M81.98,592.29 L90.58,592.29" fill="none" stroke="#000" stroke-width="1.4"/>
<path d="M95.26,596.47 L95.26,608.87 M90.96,596.47 L99.56,596.47 M95.26,608.87 L95.26,621.28 M90.96,621.28 L99.56,621.28" fill="none" stroke="#000" stroke-width="1.4"/>
<path d="M71.99,543.21 L82.59,543.21 L77.29,551.71 Z" fill="#ff0000" stroke="#000" stroke-width="1.2" stroke-linejoin="round"/>
<path d="M80.98,582.28 L91.58,582.28 L86.28,590.78 Z" fill="#ff0000" stroke="#000" stroke-width="1.2" stroke-linejoin="round"/>
<path d="M89.96,605.81 L100.56,605.81 L95.26,614.31 Z" fill="#ff0000" stroke="#000" stroke-width="1.2" stroke-linejoin="round"/>
<path d="M107.94,606.74 L118.54,606.74 L113.24,615.24 Z" fill="#ff0000" stroke="#000" stroke-width="1.2" stroke-linejoin="round"/>
<path d="M122.91,592.25 L133.51,592.25 L128.21,600.75 Z" fill="#ff0000" stroke="#000" stroke-width="1.2" stroke-linejoin="round"/>
<path d="M149.87,614.28 L160.47,614.28 L155.17,622.78 Z" fill="#ff0000" stroke="#000" stroke-width="1.2" stroke-linejoin="round"/>
<path d="M173.84,600.25 L184.44,600.25 L179.14,608.75 Z" fill="#ff0000" stroke="#000" stroke-width="1.2" stroke-linejoin="round"/>
<path d="M185.82,591.09 L196.42,591.09 L191.12,599.59 Z" fill="#ff0000" stroke="#000" stroke-width="1.2" stroke-linejoin="round"/>
<path d="M212.78,632.59 L223.38,632.59 L218.08,641.09 Z" fill="#ff0000" stroke="#000" stroke-width="1.2" stroke-linejoin="round"/>
<path d="M233.75,639.20 L244.35,639.20 L239.05,647.70 Z" fill="#ff0000" stroke="#000" stroke-width="1.2" stroke-linejoin="round"/>
<path d="M254.72,632.48 L265.32,632.48 L260.02,640.98 Z" fill="#ff0000" stroke="#000" stroke-width="1.2" stroke-linejoin="round"/>
<path d="M272.69,639.90 L283.29,639.90 L277.99,648.40 Z" fill="#ff0000" stroke="#000" stroke-width="1.2" stroke-linejoin="round"/>
<path d="M293.66,638.16 L304.26,638.16 L298.96,646.66 Z" fill="#ff0000" stroke="#000" stroke-width="1.2" stroke-linejoin="round"/>
<path d="M377.53,638.62 L388.13,638.62 L382.83,647.12 Z" fill="#ff0000" stroke="#000" stroke-width="1.2" stroke-linejoin="round"/>
<path d="M542.28,639.78 L552.88,639.78 L547.58,648.28 Z" fill="#ff0000" stroke="#000" stroke-width="1.2" stroke-linejoin="round"/>
<path d="M671.09,639.78 L681.69,639.78 L676.39,648.28 Z" fill="#ff0000" stroke="#000" stroke-width="1.2" stroke-linejoin="round"/>
<path d="M77.29,533.40 L86.28,571.77 L95.26,614.78 L113.24,614.21 L128.21,608.06 L155.17,624.41 L179.14,612.35 L191.12,598.09 L218.08,629.62 L239.05,641.57 L260.02,628.58 L277.99,628.12 L298.96,634.49 L382.83,640.75 L547.58,641.68 L676.39,640.75" fill="none" stroke="#000" stroke-width="1.2" stroke-linejoin="round"/>
<path d="M77.29,488.42 L77.29,533.40 M72.99,488.42 L81.59,488.42 M77.29,533.40 L77.29,578.38 M72.99,578.38 L81.59,578.38" fill="none" stroke="#000" stroke-width="1.4"/>
<path d="M86.28,562.85 L86.28,571.77 M81.98,562.85 L90.58,562.85 M86.28,571.77 L86.28,580.70 M81.98,580.70 L90.58,580.70" fill="none" stroke="#000" stroke-width="1.4"/>
<path d="M95.26,596.47 L95.26,614.78 M90.96,596.47 L99.56,596.47 M95.26,614.78 L95.26,633.10 M90.96,633.10 L99.56,633.10" fill="none" stroke="#000" stroke-width="1.4"/>
<path d="M128.21,592.29 L128.21,608.06 M123.91,592.29 L132.51,592.29 M128.21,608.06 L128.21,623.83 M123.91,623.83 L132.51,623.83" fill="none" stroke="#000" stroke-width="1.4"/>
<path d="M179.14,605.63 L179.14,612.35 M174.84,605.63 L183.44,605.63 M179.14,612.35 L179.14,619.07 M174.84,619.07 L183.44,619.07" fill="none" stroke="#000" stroke-width="1.4"/>
<path d="M260.02,618.38 L260.02,628.58 M255.72,618.38 L264.32,618.38 M260.02,628.58 L260.02,638.78 M255.72,638.78 L264.32,638.78" fill="none" stroke="#000" stroke-width="1.4"/>
<path d="M277.99,615.83 L277.99,628.12 M273.69,615.83 L282.29,615.83 M277.99,628.12 L277.99,640.41 M273.69,640.41 L282.29,640.41" fill="none" stroke="#000" stroke-width="1.4"/>
<rect x="72.79" y="528.90" width="9.0" height="9.0" fill="#00ff00" stroke="#000" stroke-width="1"/>
<rect x="81.78" y="567.27" width="9.0" height="9.0" fill="#00ff00" stroke="#000" stroke-width="1"/>
<rect x="90.76" y="610.28" width="9.0" height="9.0" fill="#00ff00" stroke="#000" stroke-width="1"/>
<rect x="108.74" y="609.71" width="9.0" height="9.0" fill="#00ff00" stroke="#000" stroke-width="1"/>
<rect x="123.71" y="603.56" width="9.0" height="9.0" fill="#00ff00" stroke="#000" stroke-width="1"/>
<rect x="150.67" y="619.91" width="9.0" height="9.0" fill="#00ff00" stroke="#000" stroke-width="1"/>
<rect x="174.64" y="607.85" width="9.0" height="9.0" fill="#00ff00" stroke="#000" stroke-width="1"/>
<rect x="186.62" y="593.59" width="9.0" height="9.0" fill="#00ff00" stroke="#000" stroke-width="1"/>
<rect x="213.58" y="625.12" width="9.0" height="9.0" fill="#00ff00" stroke="#000" stroke-width="1"/>
<rect x="234.55" y="637.07" width="9.0" height="9.0" fill="#00ff00" stroke="#000" stroke-width="1"/>
<rect x="255.52" y="624.08" width="9.0" height="9.0" fill="#00ff00" stroke="#000" stroke-width="1"/>
<rect x="273.49" y="623.62" width="9.0" height="9.0" fill="#00ff00" stroke="#000" stroke-width="1"/>
<rect x="294.46" y="629.99" width="9.0" height="9.0" fill="#00ff00" stroke="#000" stroke-width="1"/>
<rect x="378.33" y="636.25" width="9.0" height="9.0" fill="#00ff00" stroke="#000" stroke-width="1"/>
<rect x="543.08" y="637.18" width="9.0" height="9.0" fill="#00ff00" stroke="#000" stroke-width="1"/>
<rect x="671.89" y="636.25" width="9.0" height="9.0" fill="#00ff00" stroke="#000" stroke-width="1"/>
<path d="M77.29,752.98 L86.28,833.46 L95.26,815.93 L113.24,849.14 L128.21,831.26 L155.17,869.23 L179.14,863.19 L191.12,878.75 L218.08,880.38 L239.05,877.59 L260.02,881.08 L298.96,882.47 L382.83,882.82 L547.58,882.24 L676.39,882.82" fill="none" stroke="#000" stroke-width="1.2" stroke-linejoin="round"/>
<path d="M77.29,712.34 L77.29,752.98 M72.99,712.34 L81.59,712.34 M77.29,752.98 L77.29,793.63 M72.99,793.63 L81.59,793.63" fill="none" stroke="#000" stroke-width="1.4"/>
<path d="M95.26,808.26 L95.26,815.93 M90.96,808.26 L99.56,808.26 M95.26,815.93 L95.26,823.59 M90.96,823.59 L99.56,823.59" fill="none" stroke="#000" stroke-width="1.4"/>
<circle cx="77.29" cy="752.98" r="5.7" fill="#000"/>
<circle cx="86.28" cy="833.46" r="5.7" fill="#000"/>
<circle cx="95.26" cy="815.93" r="5.7" fill="#000"/>
<circle cx="113.24" cy="849.14" r="5.7" fill="#000"/>
<circle cx="128.21" cy="831.26" r="5.7" fill="#000"/>
<circle cx="155.17" cy="869.23" r="5.7" fill="#000"/>
<circle cx="179.14" cy="863.19" r="5.7" fill="#000"/>
<circle cx="191.12" cy="878.75" r="5.7" fill="#000"/>
<circle cx="218.08" cy="880.38" r="5.7" fill="#000"/>
<circle cx="239.05" cy="877.59" r="5.7" fill="#000"/>
<circle cx="260.02" cy="881.08" r="5.7" fill="#000"/>
<circle cx="298.96" cy="882.47" r="5.7" fill="#000"/>
<circle cx="382.83" cy="882.82" r="5.7" fill="#000"/>
<circle cx="547.58" cy="882.24" r="5.7" fill="#000"/>
<circle cx="676.39" cy="882.82" r="5.7" fill="#000"/>
<path d="M77.29,795.60 L86.28,815.11 L95.26,853.21 L113.24,861.33 L128.21,860.29 L155.17,878.75 L179.14,876.43 L191.12,874.92 L218.08,881.08 L239.05,882.24 L260.02,882.24 L298.96,883.05 L382.83,883.05 L547.58,882.82 L676.39,883.05" fill="none" stroke="#000" stroke-width="1.2" stroke-linejoin="round"/>
<path d="M77.29,753.10 L77.29,795.60 M72.99,753.10 L81.59,753.10 M77.29,795.60 L77.29,838.11 M72.99,838.11 L81.59,838.11" fill="none" stroke="#000" stroke-width="1.4"/>
<path d="M86.28,783.64 L86.28,815.11 M81.98,783.64 L90.58,783.64 M86.28,815.11 L86.28,846.59 M81.98,846.59 L90.58,846.59" fill="none" stroke="#000" stroke-width="1.4"/>
<path d="M95.26,837.64 L95.26,853.21 M90.96,837.64 L99.56,837.64 M95.26,853.21 L95.26,868.77 M90.96,868.77 L99.56,868.77" fill="none" stroke="#000" stroke-width="1.4"/>
<path d="M128.21,851.81 L128.21,860.29 M123.91,851.81 L132.51,851.81 M128.21,860.29 L128.21,868.77 M123.91,868.77 L132.51,868.77" fill="none" stroke="#000" stroke-width="1.4"/>
<path d="M191.12,863.89 L191.12,874.92 M186.82,863.89 L195.42,863.89 M191.12,874.92 L191.12,883.40" fill="none" stroke="#000" stroke-width="1.4"/>
<path d="M71.99,792.54 L82.59,792.54 L77.29,801.04 Z" fill="#ff0000" stroke="#000" stroke-width="1.2" stroke-linejoin="round"/>
<path d="M80.98,812.05 L91.58,812.05 L86.28,820.55 Z" fill="#ff0000" stroke="#000" stroke-width="1.2" stroke-linejoin="round"/>
<path d="M89.96,850.15 L100.56,850.15 L95.26,858.65 Z" fill="#ff0000" stroke="#000" stroke-width="1.2" stroke-linejoin="round"/>
<path d="M107.94,858.27 L118.54,858.27 L113.24,866.77 Z" fill="#ff0000" stroke="#000" stroke-width="1.2" stroke-linejoin="round"/>
<path d="M122.91,857.23 L133.51,857.23 L128.21,865.73 Z" fill="#ff0000" stroke="#000" stroke-width="1.2" stroke-linejoin="round"/>
<path d="M149.87,875.69 L160.47,875.69 L155.17,884.19 Z" fill="#ff0000" stroke="#000" stroke-width="1.2" stroke-linejoin="round"/>
<path d="M173.84,873.37 L184.44,873.37 L179.14,881.87 Z" fill="#ff0000" stroke="#000" stroke-width="1.2" stroke-linejoin="round"/>
<path d="M185.82,871.86 L196.42,871.86 L191.12,880.36 Z" fill="#ff0000" stroke="#000" stroke-width="1.2" stroke-linejoin="round"/>
<path d="M212.78,878.02 L223.38,878.02 L218.08,886.52 Z" fill="#ff0000" stroke="#000" stroke-width="1.2" stroke-linejoin="round"/>
<path d="M233.75,879.18 L244.35,879.18 L239.05,887.68 Z" fill="#ff0000" stroke="#000" stroke-width="1.2" stroke-linejoin="round"/>
<path d="M254.72,879.18 L265.32,879.18 L260.02,887.68 Z" fill="#ff0000" stroke="#000" stroke-width="1.2" stroke-linejoin="round"/>
<path d="M293.66,879.99 L304.26,879.99 L298.96,888.49 Z" fill="#ff0000" stroke="#000" stroke-width="1.2" stroke-linejoin="round"/>
<path d="M377.53,879.99 L388.13,879.99 L382.83,888.49 Z" fill="#ff0000" stroke="#000" stroke-width="1.2" stroke-linejoin="round"/>
<path d="M542.28,879.76 L552.88,879.76 L547.58,888.26 Z" fill="#ff0000" stroke="#000" stroke-width="1.2" stroke-linejoin="round"/>
<path d="M671.09,879.99 L681.69,879.99 L676.39,888.49 Z" fill="#ff0000" stroke="#000" stroke-width="1.2" stroke-linejoin="round"/>
<path d="M77.29,770.05 L86.28,832.19 L95.26,839.62 L113.24,861.45 L128.21,851.23 L155.17,874.69 L179.14,870.39 L191.12,878.41 L218.08,879.34 L239.05,876.32 L260.02,880.96 L298.96,882.24 L382.83,882.47 L547.58,882.01 L676.39,882.47" fill="none" stroke="#000" stroke-width="1.2" stroke-linejoin="round"/>
<path d="M77.29,731.73 L77.29,770.05 M72.99,731.73 L81.59,731.73 M77.29,770.05 L77.29,808.38 M72.99,808.38 L81.59,808.38" fill="none" stroke="#000" stroke-width="1.4"/>
<path d="M86.28,808.38 L86.28,832.19 M81.98,808.38 L90.58,808.38 M86.28,832.19 L86.28,855.99 M81.98,855.99 L90.58,855.99" fill="none" stroke="#000" stroke-width="1.4"/>
<path d="M95.26,817.32 L95.26,839.62 M90.96,817.32 L99.56,817.32 M95.26,839.62 L95.26,861.92 M90.96,861.92 L99.56,861.92" fill="none" stroke="#000" stroke-width="1.4"/>
<path d="M113.24,849.95 L113.24,861.45 M108.94,849.95 L117.54,849.95 M113.24,861.45 L113.24,872.95 M108.94,872.95 L117.54,872.95" fill="none" stroke="#000" stroke-width="1.4"/>
<rect x="72.79" y="765.55" width="9.0" height="9.0" fill="#00ff00" stroke="#000" stroke-width="1"/>
<rect x="81.78" y="827.69" width="9.0" height="9.0" fill="#00ff00" stroke="#000" stroke-width="1"/>
<rect x="90.76" y="835.12" width="9.0" height="9.0" fill="#00ff00" stroke="#000" stroke-width="1"/>
<rect x="108.74" y="856.95" width="9.0" height="9.0" fill="#00ff00" stroke="#000" stroke-width="1"/>
<rect x="123.71" y="846.73" width="9.0" height="9.0" fill="#00ff00" stroke="#000" stroke-width="1"/>
<rect x="150.67" y="870.19" width="9.0" height="9.0" fill="#00ff00" stroke="#000" stroke-width="1"/>
<rect x="174.64" y="865.89" width="9.0" height="9.0" fill="#00ff00" stroke="#000" stroke-width="1"/>
<rect x="186.62" y="873.91" width="9.0" height="9.0" fill="#00ff00" stroke="#000" stroke-width="1"/>
<rect x="213.58" y="874.84" width="9.0" height="9.0" fill="#00ff00" stroke="#000" stroke-width="1"/>
<rect x="234.55" y="871.82" width="9.0" height="9.0" fill="#00ff00" stroke="#000" stroke-width="1"/>
<rect x="255.52" y="876.46" width="9.0" height="9.0" fill="#00ff00" stroke="#000" stroke-width="1"/>
<rect x="294.46" y="877.74" width="9.0" height="9.0" fill="#00ff00" stroke="#000" stroke-width="1"/>
<rect x="378.33" y="877.97" width="9.0" height="9.0" fill="#00ff00" stroke="#000" stroke-width="1"/>
<rect x="543.08" y="877.51" width="9.0" height="9.0" fill="#00ff00" stroke="#000" stroke-width="1"/>
<rect x="671.89" y="877.97" width="9.0" height="9.0" fill="#00ff00" stroke="#000" stroke-width="1"/>
<line x1="539.7" y1="97.9" x2="572.4" y2="97.9" stroke="#555" stroke-width="1.2"/>
<circle cx="556.10" cy="97.90" r="5.7" fill="#000"/>
<text x="580.5" y="102.9" font-size="14">Control</text>
<line x1="539.7" y1="113.6" x2="572.4" y2="113.6" stroke="#000" stroke-width="1.2"/>
<path d="M550.80,110.54 L561.40,110.54 L556.10,119.04 Z" fill="#ff0000" stroke="#000" stroke-width="1.2" stroke-linejoin="round"/>
<text x="580.5" y="118.6" font-size="14">3-NOP</text>
<line x1="539.7" y1="129.5" x2="572.4" y2="129.5" stroke="#000" stroke-width="1.2"/>
<rect x="551.60" y="125.00" width="9.0" height="9.0" fill="#00ff00" stroke="#000" stroke-width="1"/>
<text x="580.5" y="134.5" font-size="14">3-NOP+Mon</text>
<text x="668" y="30.3" text-anchor="end" font-size="17">A) Compost N<tspan font-size="12" dy="5">2</tspan><tspan dy="-5">O</tspan></text>
<text x="670.6" y="258.3" text-anchor="end" font-size="17">B) Stockpile N<tspan font-size="12" dy="5">2</tspan><tspan dy="-5">O</tspan></text>
<text x="672.5" y="491" text-anchor="end" font-size="17">C) Compost NH<tspan font-size="12" dy="5">3</tspan></text>
<text x="672" y="730.8" text-anchor="end" font-size="17">D) Stockpile NH<tspan font-size="12" dy="5">3</tspan></text>
<text transform="translate(26.7,96.3) rotate(-90)" text-anchor="middle" font-size="17">N<tspan font-size="12" dy="6">2</tspan><tspan dy="-6">O (g N m</tspan><tspan font-size="12" dy="-8">-2</tspan><tspan dy="8"> d</tspan><tspan font-size="12" dy="-8">-1</tspan><tspan dy="8">)</tspan></text>
<text transform="translate(26.7,324.5) rotate(-90)" text-anchor="middle" font-size="17">N<tspan font-size="12" dy="6">2</tspan><tspan dy="-6">O (g N m</tspan><tspan font-size="12" dy="-8">-2</tspan><tspan dy="8"> d</tspan><tspan font-size="12" dy="-8">-1</tspan><tspan dy="8">)</tspan></text>
<text transform="translate(19.0,556.6) rotate(-90)" text-anchor="middle" font-size="17">NH<tspan font-size="12" dy="6">3</tspan><tspan dy="-6"> (g N m</tspan><tspan font-size="12" dy="-8">-2</tspan><tspan dy="8"> d</tspan><tspan font-size="12" dy="-8">-1</tspan><tspan dy="8">)</tspan></text>
<text transform="translate(19.0,796.6) rotate(-90)" text-anchor="middle" font-size="17">NH<tspan font-size="12" dy="6">3</tspan><tspan dy="-6"> (g N m</tspan><tspan font-size="12" dy="-8">-2</tspan><tspan dy="8"> d</tspan><tspan font-size="12" dy="-8">-1</tspan><tspan dy="8">)</tspan></text>
<text x="374" y="941" text-anchor="middle" font-size="17">Pile age (days)</text>
<line x1="70.2" y1="969" x2="677.0" y2="969" stroke="#000" stroke-width="1.9"/>
<line x1="143.2" y1="969" x2="143.2" y2="975.8" stroke="#000" stroke-width="1.6"/>
<text x="139.3" y="995.5" text-anchor="middle" font-size="14">Oct</text>
<line x1="236.1" y1="969" x2="236.1" y2="975.8" stroke="#000" stroke-width="1.6"/>
<text x="232.2" y="995.5" text-anchor="middle" font-size="14">Nov</text>
<line x1="326.0" y1="969" x2="326.0" y2="975.8" stroke="#000" stroke-width="1.6"/>
<text x="322.1" y="995.5" text-anchor="middle" font-size="14">Dec</text>
<line x1="418.9" y1="969" x2="418.9" y2="975.8" stroke="#000" stroke-width="1.6"/>
<text x="415.0" y="995.5" text-anchor="middle" font-size="14">Jan</text>
<line x1="511.7" y1="969" x2="511.7" y2="975.8" stroke="#000" stroke-width="1.6"/>
<text x="507.8" y="995.5" text-anchor="middle" font-size="14">Feb</text>
<line x1="595.6" y1="969" x2="595.6" y2="975.8" stroke="#000" stroke-width="1.6"/>
<text x="591.7" y="995.5" text-anchor="middle" font-size="14">Mar</text>
<text x="374" y="1025.8" text-anchor="middle" font-size="17">Date (month)</text>
</svg>
</body></html>
